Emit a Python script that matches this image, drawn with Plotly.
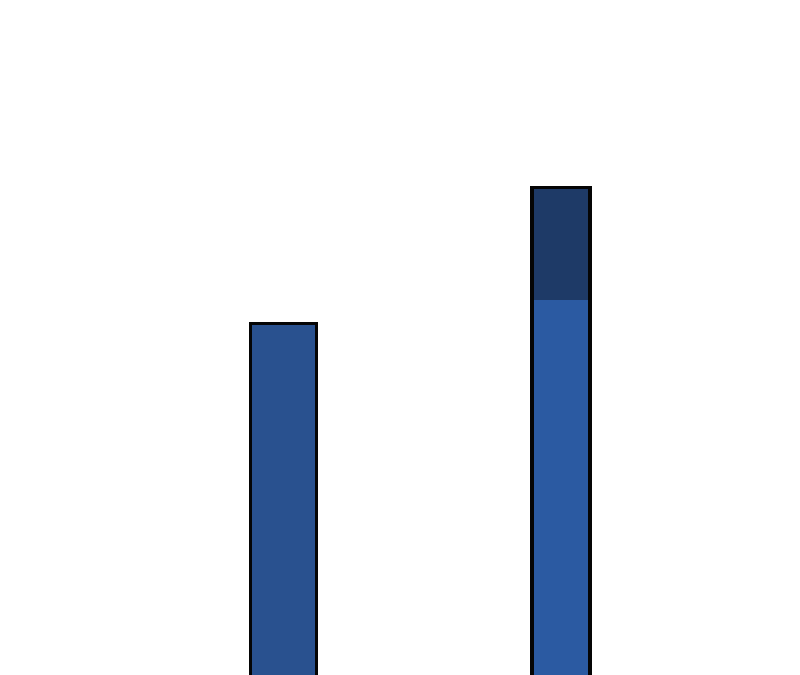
import plotly.graph_objects as go

# two bars, no axes
categories = ["A", "B"]
values = [38, 52]
# bar B has a darker cap on top of the lighter body
lower_part = [38, 40.4]
upper_part = [0, 11.6]

fill_low = ["#29518f", "#2b5aa2"]
fill_high = ["#23467f", "#1e3a67"]
widths = [0.238, 0.209]

fig = go.Figure()

fig.add_trace(go.Bar(
    x=categories, y=lower_part, width=widths,
    marker=dict(color=fill_low, line=dict(width=0)),
    hoverinfo="skip",
))
fig.add_trace(go.Bar(
    x=categories, y=upper_part, width=widths,
    marker=dict(color=fill_high, line=dict(width=0)),
    hoverinfo="skip",
))
# outline over both segments
fig.add_trace(go.Bar(
    x=categories, y=values, width=widths,
    base=0,
    marker=dict(color="rgba(0,0,0,0)", line=dict(color="#050505", width=3.5)),
))

fig.update_layout(
    barmode="stack",
    width=800, height=675,
    margin=dict(l=0, r=0, t=0, b=0),
    paper_bgcolor="white",
    plot_bgcolor="white",
    showlegend=False,
    xaxis=dict(visible=False, range=[-0.9928, 1.890]),
    yaxis=dict(visible=False, range=[0.99, 70.48]),
)

fig.write_html("out.html")
